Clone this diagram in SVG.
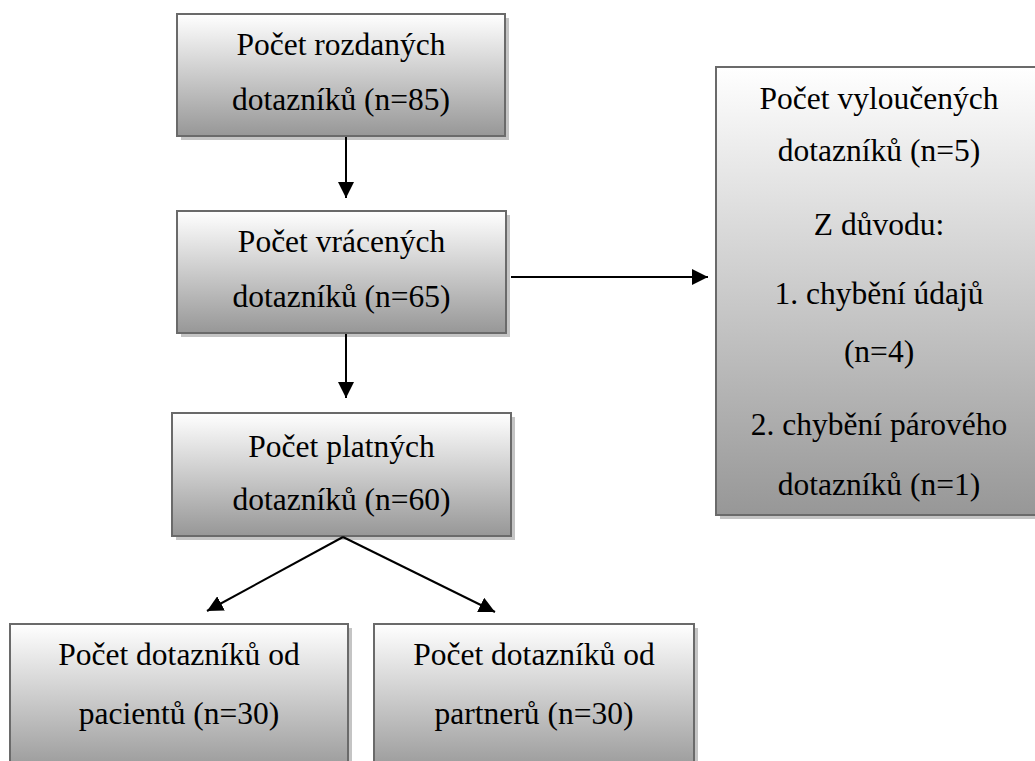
<svg xmlns="http://www.w3.org/2000/svg" width="1035" height="761" viewBox="0 0 1035 761">
<defs>
<linearGradient id="g" x1="0" y1="0" x2="0" y2="1">
<stop offset="0" stop-color="#ffffff"/>
<stop offset="1" stop-color="#979797"/>
</linearGradient>
<marker id="ah" markerUnits="userSpaceOnUse" markerWidth="16" markerHeight="16" refX="15" refY="7.5" orient="auto" viewBox="0 0 15 15">
<path d="M0,0 L15,7.5 L0,15 z" fill="#000"/>
</marker>
</defs>
<style>
.sh{fill:#c4c4c4;}
.bx{fill:url(#g);stroke:#6a6a6a;stroke-width:2;}
.t{font-family:"Liberation Serif","Times New Roman",serif;font-size:31.5px;fill:#000;text-anchor:middle;}
.c{stroke:#000;stroke-width:2;fill:none;marker-end:url(#ah);}
</style>
<g id="n1">
<rect class="sh" x="181" y="18" width="328" height="122"/>
<rect class="bx" x="177" y="14" width="328" height="122"/>
<text class="t" x="341" y="55">Počet rozdaných</text>
<text class="t" x="341" y="110">dotazníků (n=85)</text>
</g>
<g id="n2">
<rect class="sh" x="181" y="215" width="329" height="122"/>
<rect class="bx" x="177" y="211" width="329" height="122"/>
<text class="t" x="341.5" y="252">Počet vrácených</text>
<text class="t" x="341.5" y="307">dotazníků (n=65)</text>
</g>
<g id="n3">
<rect class="sh" x="176" y="417" width="339" height="123"/>
<rect class="bx" x="172" y="413" width="339" height="123"/>
<text class="t" x="341.5" y="457">Počet platných</text>
<text class="t" x="341.5" y="510">dotazníků (n=60)</text>
</g>
<g id="n4">
<rect class="sh" x="14" y="628" width="338" height="150"/>
<rect class="bx" x="10" y="624" width="338" height="150"/>
<text class="t" x="179" y="665">Počet dotazníků od</text>
<text class="t" x="179" y="724">pacientů (n=30)</text>
</g>
<g id="n5">
<rect class="sh" x="378" y="628" width="320" height="150"/>
<rect class="bx" x="374" y="624" width="320" height="150"/>
<text class="t" x="534" y="665">Počet dotazníků od</text>
<text class="t" x="534" y="724">partnerů (n=30)</text>
</g>
<g id="n6">
<rect class="sh" x="720" y="71" width="330" height="448"/>
<rect class="bx" x="716" y="67" width="330" height="448"/>
<text class="t" x="879" y="109">Počet vyloučených</text>
<text class="t" x="879" y="161">dotazníků (n=5)</text>
<text class="t" x="879" y="235">Z důvodu:</text>
<text class="t" x="879" y="304">1. chybění údajů</text>
<text class="t" x="879" y="362">(n=4)</text>
<text class="t" x="879" y="435">2. chybění párového</text>
<text class="t" x="879" y="495">dotazníků (n=1)</text>
</g>
<g id="connectors">
<line class="c" x1="346" y1="137" x2="346" y2="198"/>
<line class="c" x1="346" y1="334" x2="346" y2="398"/>
<line class="c" x1="511" y1="277" x2="708" y2="277"/>
<line class="c" x1="343" y1="537" x2="207" y2="611"/>
<line class="c" x1="343" y1="537" x2="495" y2="612"/>
</g>
</svg>
